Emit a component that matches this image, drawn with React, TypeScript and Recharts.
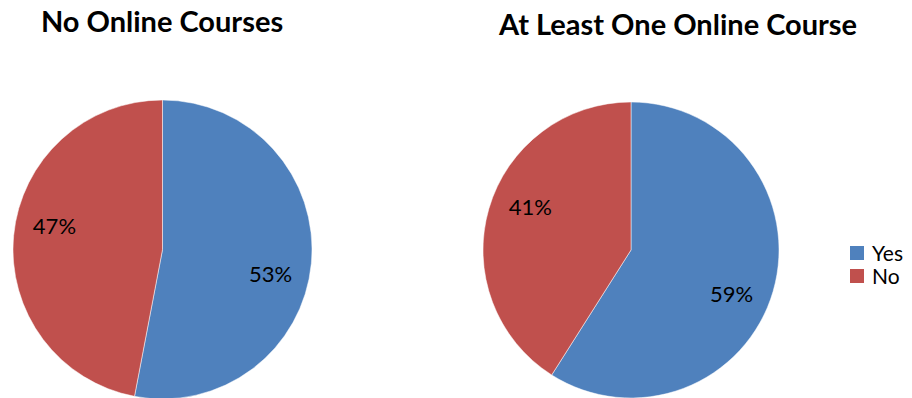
import { Cell, Legend, Pie, PieChart } from "recharts";

const categories = ["Yes", "No"];
const colors = ["#4F81BD", "#C0504D"];
const noOnlineValues = [53, 47];
const atLeastOneValues = [59, 41];
const titles = ["No Online Courses", "At Least One Online Course"];

const FONT = "Lato, 'Open Sans', sans-serif";
const RADIAN = Math.PI / 180;

const toData = (values: number[]) =>
  categories.map((name, i) => ({ name, value: values[i] }));

const noOnlineData = toData(noOnlineValues);
const atLeastOneData = toData(atLeastOneValues);

function renderLabel(props: any) {
  const { cx, cy, midAngle, outerRadius, value } = props;
  const r = outerRadius * 0.74;
  const a = (midAngle - 7) * RADIAN;
  const x = cx + r * Math.cos(a);
  const y = cy - r * Math.sin(a);
  return (
    <text
      x={x}
      y={y}
      textAnchor="middle"
      dominantBaseline="central"
      fontSize={22}
      fontFamily={FONT}
      fill="#000"
    >
      {`${value}%`}
    </text>
  );
}

function LegendBox() {
  return (
    <div style={{ fontFamily: FONT, fontSize: 21, color: "#000" }}>
      {categories.map((c, i) => (
        <div key={c} style={{ display: "flex", alignItems: "center", height: 23 }}>
          <span
            style={{
              display: "inline-block",
              width: 14,
              height: 14,
              background: colors[i],
              marginRight: 8,
            }}
          />
          <span
            style={{
              display: "inline-block",
              height: 21,
              lineHeight: "21px",
              overflow: "visible",
            }}
          >
            {c}
          </span>
        </div>
      ))}
    </div>
  );
}

export default function App() {
  return (
    <div
      style={{
        position: "absolute",
        left: 0,
        top: 0,
        width: 912,
        height: 398,
        background: "#fff",
        overflow: "hidden",
      }}
    >
      <div
        style={{
          position: "absolute",
          left: 162 - 200,
          width: 400,
          top: 3,
          textAlign: "center",
          fontFamily: FONT,
          fontWeight: 700,
          fontSize: 29,
        }}
      >
        {titles[0]}
      </div>
      <div
        style={{
          position: "absolute",
          left: 678 - 250,
          width: 500,
          top: 6,
          textAlign: "center",
          fontFamily: FONT,
          fontWeight: 700,
          fontSize: 29,
        }}
      >
        {titles[1]}
      </div>
      <PieChart
        width={912}
        height={398}
        margin={{ top: 0, right: 0, bottom: 0, left: 0 }}
        style={{ position: "absolute", left: 0, top: 0 }}
      >
        <Pie
          data={noOnlineData}
          dataKey="value"
          nameKey="name"
          cx={162.5}
          cy={249.5}
          outerRadius={149.5}
          startAngle={90}
          endAngle={-270}
          stroke="#fff"
          strokeWidth={0.5}
          label={renderLabel}
          labelLine={false}
          isAnimationActive={false}
        >
          {noOnlineData.map((d, i) => (
            <Cell key={d.name} fill={colors[i]} />
          ))}
        </Pie>
        <Pie
          data={atLeastOneData}
          dataKey="value"
          nameKey="name"
          cx={631}
          cy={250}
          outerRadius={148}
          startAngle={90}
          endAngle={-270}
          stroke="#fff"
          strokeWidth={0.5}
          label={renderLabel}
          labelLine={false}
          isAnimationActive={false}
        >
          {atLeastOneData.map((d, i) => (
            <Cell key={d.name} fill={colors[i]} />
          ))}
        </Pie>
        <Legend
          content={() => <LegendBox />}
          wrapperStyle={{ position: "absolute", left: 850, top: 241, width: 62 }}
        />
      </PieChart>
    </div>
  );
}
